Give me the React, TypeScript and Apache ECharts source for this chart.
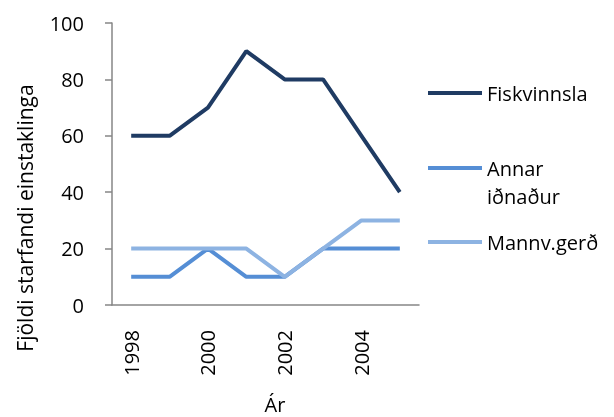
import React, { useEffect, useRef } from "react";
import * as echarts from "echarts";

const years = ["1998", "1999", "2000", "2001", "2002", "2003", "2004", "2005"];
const seriesNames = ["Fiskvinnsla", "Annar\niðnaður", "Mannv.gerð"];
const fiskvinnsla = [60, 60, 70, 90, 80, 80, 60, 40];
const annarIdnadur = [10, 10, 20, 10, 10, 20, 20, 20];
const mannvGerd = [20, 20, 20, 20, 10, 20, 30, 30];
const colors = ["#1F3B63", "#558ED5", "#8DB3E2"];
const yAxisTitle = "Fjöldi starfandi einstaklinga";
const xAxisTitle = "Ár";

const FONT = "'Open Sans', sans-serif";

export default function App() {
  const ref = useRef<HTMLDivElement>(null);
  useEffect(() => {
    if (!ref.current) return;
    const chart = echarts.init(ref.current, null, { renderer: "svg" });
    const data = [fiskvinnsla, annarIdnadur, mannvGerd];
    const legendY = [93, 168, 242];
    const graphic: any[] = [
      {
        type: "text",
        x: 25,
        y: 218,
        rotation: Math.PI / 2,
        style: {
          text: yAxisTitle,
          font: `21px ${FONT}`,
          fill: "#000",
          align: "center",
          verticalAlign: "middle",
        },
      },
      {
        type: "text",
        x: 275,
        y: 404,
        style: {
          text: xAxisTitle,
          font: `20px ${FONT}`,
          fill: "#000",
          align: "center",
          verticalAlign: "middle",
        },
      },
    ];
    seriesNames.forEach((n, i) => {
      graphic.push({
        type: "line",
        shape: { x1: 428, y1: legendY[i], x2: 482, y2: legendY[i] },
        style: { stroke: colors[i], lineWidth: 4 },
      });
      graphic.push({
        type: "text",
        x: 487,
        y: legendY[i] - 14,
        style: {
          text: n,
          font: `20px ${FONT}`,
          fill: "#000",
          lineHeight: 28,
          verticalAlign: "top",
        },
      });
    });
    chart.setOption({
      animation: false,
      grid: { left: 112, right: 195, top: 23, bottom: 112, containLabel: false },
      xAxis: {
        type: "category",
        data: years,
        boundaryGap: true,
        axisLine: { lineStyle: { color: "#868686", width: 1.5 } },
        axisTick: { interval: 0, length: 7, lineStyle: { color: "#868686", width: 1.5 } },
        axisLabel: {
          interval: 1,
          rotate: 90,
          margin: 25,
          color: "#000",
          fontSize: 20,
          fontFamily: FONT,
        },
      },
      yAxis: {
        type: "value",
        min: 0,
        max: 100,
        interval: 20,
        splitLine: { show: false },
        axisLine: { show: true, lineStyle: { color: "#868686", width: 1.5 } },
        axisTick: { show: true, length: 7, lineStyle: { color: "#868686", width: 1.5 } },
        axisLabel: { margin: 28, color: "#000", fontSize: 20, fontFamily: FONT },
      },
      graphic,
      series: data.map((d, i) => ({
        type: "line",
        name: seriesNames[i],
        data: d,
        symbol: "none",
        lineStyle: { color: colors[i], width: 4 },
      })),
    });
    return () => chart.dispose();
  }, []);
  return (
    <div
      ref={ref}
      style={{ position: "fixed", left: 0, top: 0, width: 614, height: 417 }}
    />
  );
}
